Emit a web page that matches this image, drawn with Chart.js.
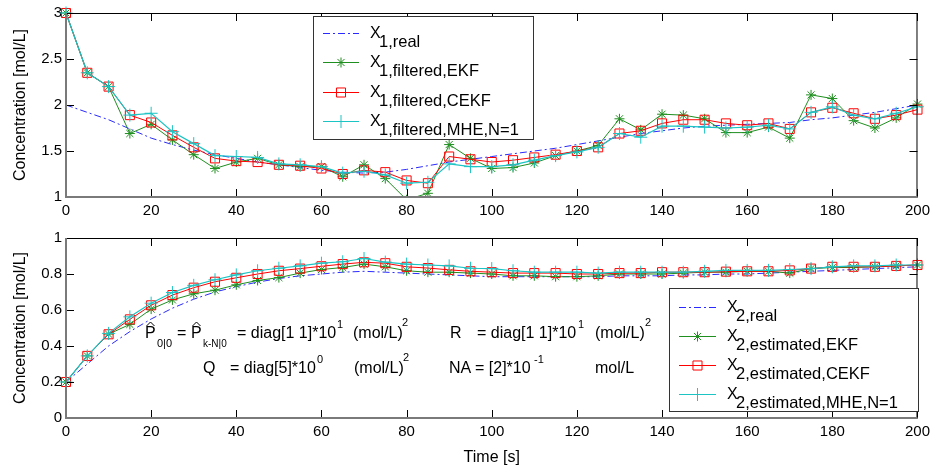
<!DOCTYPE html>
<html>
<head>
<meta charset="utf-8">
<title>Concentration estimates</title>
<script src="https://cdn.jsdelivr.net/npm/chart.js@4.4.1/dist/chart.umd.min.js"></script>
<style>
  html, body { margin: 0; padding: 0; background: #fff; }
  #wrap { position: relative; width: 935px; height: 470px; overflow: hidden; }
  .panel { position: absolute; left: 0; width: 935px; }
  #topPanel { top: 0; height: 225px; }
  #bottomPanel { top: 225px; height: 245px; }
</style>
</head>
<body>
<div id="wrap">
  <div class="panel" id="topPanel"><canvas id="chartTop" width="935" height="225"></canvas></div>
  <div class="panel" id="bottomPanel"><canvas id="chartBottom" width="935" height="245"></canvas></div>
</div>
<script>
// sample times [s]
const times = [0, 5, 10, 15, 20, 25, 30, 35, 40, 45, 50, 55, 60, 65, 70, 75, 80, 85, 90, 95, 100,
               105, 110, 115, 120, 125, 130, 135, 140, 145, 150, 155, 160, 165, 170, 175, 180, 185, 190, 195, 200];

// state 1 (top panel)
const x1Real = [2.00, 1.92, 1.84, 1.74, 1.64, 1.57, 1.51, 1.46, 1.42, 1.38, 1.35, 1.32, 1.29, 1.27, 1.26, 1.27, 1.30, 1.34, 1.38, 1.41, 1.44,
                1.47, 1.50, 1.53, 1.57, 1.61, 1.65, 1.69, 1.72, 1.75, 1.77, 1.78, 1.79, 1.80, 1.81, 1.84, 1.86, 1.89, 1.92, 1.96, 2.00];
const x1Ekf = [3.00, 2.35, 2.20, 1.69, 1.79, 1.62, 1.46, 1.31, 1.38, 1.42, 1.35, 1.33, 1.33, 1.22, 1.35, 1.20, 0.97, 1.04, 1.57, 1.42, 1.31,
               1.32, 1.37, 1.45, 1.50, 1.56, 1.85, 1.73, 1.90, 1.89, 1.85, 1.70, 1.70, 1.76, 1.64, 2.11, 2.07, 1.83, 1.75, 1.86, 2.01];
const x1Cekf = [3.00, 2.35, 2.20, 1.89, 1.81, 1.67, 1.54, 1.42, 1.39, 1.38, 1.35, 1.34, 1.31, 1.25, 1.29, 1.27, 1.18, 1.15, 1.44, 1.41, 1.38,
                1.40, 1.43, 1.46, 1.50, 1.54, 1.69, 1.72, 1.80, 1.84, 1.84, 1.80, 1.78, 1.80, 1.74, 1.92, 1.97, 1.91, 1.85, 1.89, 1.95];
const x1Mhe = [3.00, 2.35, 2.20, 1.89, 1.91, 1.71, 1.58, 1.45, 1.44, 1.43, 1.36, 1.35, 1.33, 1.26, 1.28, 1.24, 1.15, 1.16, 1.36, 1.33, 1.33,
               1.35, 1.40, 1.45, 1.49, 1.54, 1.69, 1.65, 1.77, 1.77, 1.76, 1.75, 1.76, 1.78, 1.74, 1.92, 1.98, 1.89, 1.85, 1.91, 1.98];

// state 2 (bottom panel)
const x2Real = [0.20, 0.30, 0.40, 0.48, 0.55, 0.61, 0.66, 0.70, 0.73, 0.755, 0.775, 0.79, 0.80, 0.81, 0.815, 0.81, 0.805, 0.80, 0.795, 0.79, 0.785,
                0.785, 0.785, 0.785, 0.785, 0.785, 0.79, 0.79, 0.79, 0.795, 0.795, 0.80, 0.80, 0.805, 0.81, 0.815, 0.82, 0.825, 0.83, 0.835, 0.84];
const x2Ekf = [0.20, 0.345, 0.466, 0.52, 0.605, 0.656, 0.69, 0.71, 0.74, 0.764, 0.78, 0.805, 0.825, 0.836, 0.855, 0.84, 0.818, 0.81, 0.81, 0.805, 0.80,
               0.79, 0.79, 0.785, 0.785, 0.79, 0.80, 0.80, 0.80, 0.805, 0.81, 0.81, 0.815, 0.815, 0.805, 0.83, 0.836, 0.836, 0.84, 0.845, 0.85];
const x2Cekf = [0.20, 0.345, 0.465, 0.548, 0.626, 0.683, 0.724, 0.757, 0.779, 0.80, 0.818, 0.83, 0.843, 0.855, 0.865, 0.86, 0.84, 0.833, 0.823, 0.815, 0.81,
                0.805, 0.805, 0.805, 0.80, 0.80, 0.805, 0.805, 0.81, 0.81, 0.81, 0.813, 0.815, 0.815, 0.82, 0.83, 0.84, 0.84, 0.84, 0.845, 0.85];
const x2Mhe = [0.20, 0.345, 0.47, 0.562, 0.638, 0.697, 0.737, 0.768, 0.795, 0.818, 0.832, 0.845, 0.86, 0.868, 0.886, 0.866, 0.855, 0.85, 0.845, 0.832, 0.83,
               0.818, 0.81, 0.81, 0.81, 0.805, 0.81, 0.81, 0.81, 0.81, 0.815, 0.82, 0.82, 0.82, 0.825, 0.83, 0.84, 0.845, 0.845, 0.85, 0.85];

// ticks
const xTicks = [0, 20, 40, 60, 80, 100, 120, 140, 160, 180, 200];
const xTickLabels = ['0', '20', '40', '60', '80', '100', '120', '140', '160', '180', '200'];
const y1Ticks = [1, 1.5, 2, 2.5, 3];
const y1TickLabels = ['1', '1.5', '2', '2.5', '3'];
const y2Ticks = [0, 0.2, 0.4, 0.6, 0.8, 1];
const y2TickLabels = ['0', '0.2', '0.4', '0.6', '0.8', '1'];

// legend subscripts
const legendTop = ['1,real', '1,filtered,EKF', '1,filtered,CEKF', '1,filtered,MHE,N=1'];
const legendBottom = ['2,real', '2,estimated,EKF', '2,estimated,CEKF', '2,estimated,MHE,N=1'];

const FONT = '"Liberation Sans", Arial, Helvetica, sans-serif';
const BLUE = '#2a2aff';
const GREEN = '#1f8f1f';
const RED = '#ff0000';
const CYAN = '#1cc4c4';

function toPoints(ys) {
    return times.map((t, i) => ({ x: t, y: ys[i] }));
}

function buildDatasets(real, ekf, cekf, mhe) {
    const clip = { left: 10, right: 10, top: 10, bottom: 0 };
    return [
        { label: 'real', data: toPoints(real), borderColor: BLUE, borderWidth: 1, borderDash: [7, 3, 2, 3],
          pointRadius: 0, order: 4, clip: clip },
        { label: 'EKF', data: toPoints(ekf), borderColor: GREEN, borderWidth: 1, pointStyle: 'star', pointRadius: 5,
          pointBorderColor: GREEN, pointBorderWidth: 1, pointBackgroundColor: 'rgba(0,0,0,0)', order: 3, clip: clip },
        { label: 'CEKF', data: toPoints(cekf), borderColor: RED, borderWidth: 1, pointStyle: 'rect', pointRadius: 6.4,
          pointBorderColor: RED, pointBorderWidth: 1, pointBackgroundColor: 'rgba(0,0,0,0)', order: 2, clip: clip },
        { label: 'MHE', data: toPoints(mhe), borderColor: CYAN, borderWidth: 1.2, pointStyle: 'cross', pointRadius: 6.5,
          pointBorderColor: CYAN, pointBorderWidth: 1, pointBackgroundColor: 'rgba(0,0,0,0)', order: 1, clip: clip }
    ];
}

function buildScales(yTicks, yLabels, xHeight, showXTitle) {
    const tickFont = { family: FONT, size: 15 };
    const titleFont = { family: FONT, size: 16 };
    return {
        x: {
            type: 'linear', min: 0, max: 200,
            afterBuildTicks: s => { s.ticks = xTicks.map(v => ({ value: v })); },
            ticks: { font: tickFont, color: '#000', padding: 5, maxRotation: 0, autoSkip: false,
                     callback: (v, i) => xTickLabels[i] },
            grid: { display: false, drawTicks: false },
            border: { display: false },
            title: { display: showXTitle, text: 'Time [s]', color: '#000', font: titleFont,
                     padding: { top: 0, bottom: 3 } },
            afterFit: s => { s.height = xHeight; }
        },
        y: {
            type: 'linear', min: yTicks[0], max: yTicks[yTicks.length - 1],
            afterBuildTicks: s => { s.ticks = yTicks.map(v => ({ value: v })); },
            ticks: { font: tickFont, color: '#000', padding: 4, autoSkip: false,
                     callback: (v, i) => yLabels[i] },
            grid: { display: false, drawTicks: false },
            border: { display: false },
            title: { display: true, text: 'Concentration [mol/L]', color: '#000', font: titleFont,
                     padding: { top: 11, bottom: 0 } },
            afterFit: s => { s.width = 66; }
        }
    };
}

// MATLAB style box with inward ticks
const axesBox = {
    id: 'axesBox',
    afterDatasetsDraw(chart) {
        const { ctx, chartArea: a, scales } = chart;
        ctx.save();
        ctx.strokeStyle = '#000';
        ctx.lineWidth = 1;
        ctx.beginPath();
        scales.x.ticks.forEach(t => {
            const px = Math.round(scales.x.getPixelForValue(t.value)) + 0.5;
            ctx.moveTo(px, a.bottom); ctx.lineTo(px, a.bottom - 8);
            ctx.moveTo(px, a.top); ctx.lineTo(px, a.top + 8);
        });
        scales.y.ticks.forEach(t => {
            const py = Math.round(scales.y.getPixelForValue(t.value)) + 0.5;
            ctx.moveTo(a.left, py); ctx.lineTo(a.left + 8, py);
            ctx.moveTo(a.right, py); ctx.lineTo(a.right - 8, py);
        });
        ctx.stroke();
        ctx.strokeRect(a.left + 0.5, a.top + 0.5, a.right - a.left - 1, a.bottom - a.top - 1);
        ctx.strokeStyle = '#7a7a7a';
        ctx.lineWidth = 2;
        ctx.beginPath();
        ctx.moveTo(a.left, a.top); ctx.lineTo(a.left, a.bottom); ctx.lineTo(a.right, a.bottom);
        ctx.stroke();
        ctx.restore();
    }
};

function drawMarker(ctx, ds, x, y) {
    const opts = { pointStyle: ds.pointStyle, radius: ds.pointRadius, rotation: 0, borderWidth: ds.pointBorderWidth };
    ctx.strokeStyle = ds.pointBorderColor;
    ctx.fillStyle = 'rgba(0,0,0,0)';
    ctx.lineWidth = ds.pointBorderWidth;
    ctx.setLineDash([]);
    Chart.helpers.drawPoint(ctx, opts, x, y);
}

// legend with subscripts, drawn by hand
const matLegend = {
    id: 'matLegend',
    afterDraw(chart, args, o) {
        const { ctx } = chart;
        const b = o.box;
        ctx.save();
        ctx.fillStyle = '#fff';
        ctx.fillRect(b.x, b.y, b.w, b.h);
        ctx.strokeStyle = '#333';
        ctx.lineWidth = 1;
        ctx.strokeRect(b.x + 0.5, b.y + 0.5, b.w, b.h);
        chart.data.datasets.forEach((ds, i) => {
            const ly = o.rows[i];
            ctx.strokeStyle = ds.borderColor;
            ctx.lineWidth = ds.borderWidth;
            ctx.setLineDash(ds.borderDash || []);
            ctx.beginPath();
            ctx.moveTo(o.x1, ly + 0.5);
            ctx.lineTo(o.x2, ly + 0.5);
            ctx.stroke();
            if (ds.pointRadius > 0) drawMarker(ctx, ds, (o.x1 + o.x2) / 2, ly + 0.5);
            ctx.fillStyle = '#000';
            ctx.textBaseline = 'alphabetic';
            ctx.textAlign = 'left';
            ctx.font = '16px ' + FONT;
            ctx.fillText('X', o.tx, ly + 5);
            ctx.font = '16.5px ' + FONT;
            ctx.fillText(o.subs[i], o.tx + 9, ly + 14);
        });
        ctx.restore();
    }
};

// filter settings written inside the lower axes
const settingsText = {
    id: 'settingsText',
    afterDraw(chart) {
        const ctx = chart.ctx;
        const put = (txt, x, y, size) => { ctx.font = size + 'px ' + FONT; ctx.fillText(txt, x, y); };
        const hat = (cx, y) => {
            ctx.beginPath();
            ctx.moveTo(cx - 4, y + 4); ctx.lineTo(cx, y); ctx.lineTo(cx + 4, y + 4);
            ctx.stroke();
        };
        ctx.save();
        ctx.fillStyle = '#000';
        ctx.strokeStyle = '#000';
        ctx.lineWidth = 1;
        ctx.textAlign = 'left';
        ctx.textBaseline = 'alphabetic';
        const b1 = 113, b2 = 148;
        put('P', 145, b1, 16); hat(150.5, 97);
        put('0|0', 157, b1 + 9, 11);
        put('=', 177, b1, 16);
        put('P', 191, b1, 16); hat(196.5, 97);
        put('k-N|0', 203, b1 + 9, 10);
        put('= diag[1 1]*10', 237, b1, 16);
        put('1', 337, b1 - 10, 11);
        put('(mol/L)', 353, b1, 16);
        put('2', 402, b1 - 12, 11);
        put('R', 450, b1, 16);
        put('= diag[1 1]*10', 477, b1, 16);
        put('1', 578, b1 - 10, 11);
        put('(mol/L)', 595, b1, 16);
        put('2', 645, b1 - 12, 11);
        put('Q', 203, b2, 16);
        put('= diag[5]*10', 230, b2, 16);
        put('0', 317, b2 - 10, 11);
        put('(mol/L)', 354, b2, 16);
        put('2', 403, b2 - 12, 11);
        put('NA', 449, b2, 16);
        put('= [2]*10', 475, b2, 16);
        put('-1', 534, b2 - 10, 11);
        put('mol/L', 595, b2, 16);
        ctx.restore();
    }
};

function makeChart(id, datasets, yTicks, yLabels, xHeight, showXTitle, topPad, legendOpts, extra) {
    return new Chart(document.getElementById(id), {
        type: 'line',
        data: { datasets: datasets },
        options: {
            responsive: false,
            animation: false,
            events: [],
            devicePixelRatio: 1,
            layout: { padding: { left: 0, right: 16, top: topPad, bottom: 0 } },
            elements: { line: { tension: 0, fill: false } },
            scales: buildScales(yTicks, yLabels, xHeight, showXTitle),
            plugins: {
                legend: { display: false },
                tooltip: { enabled: false },
                matLegend: legendOpts
            }
        },
        plugins: [axesBox, matLegend].concat(extra)
    });
}

makeChart('chartTop', buildDatasets(x1Real, x1Ekf, x1Cekf, x1Mhe), y1Ticks, y1TickLabels, 28, false, 12,
    { box: { x: 313, y: 16, w: 220, h: 123 }, rows: [33, 62, 92, 121], x1: 323, x2: 359, tx: 370, subs: legendTop }, []);

makeChart('chartBottom', buildDatasets(x2Real, x2Ekf, x2Cekf, x2Mhe), y2Ticks, y2TickLabels, 52, true, 8,
    { box: { x: 669, y: 63, w: 249, h: 123 }, rows: [82, 111, 140, 169], x1: 679, x2: 716, tx: 727, subs: legendBottom }, [settingsText]);
</script>
</body>
</html>
